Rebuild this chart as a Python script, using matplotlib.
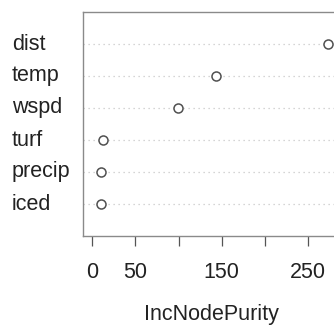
import matplotlib
matplotlib.use("Agg")
import matplotlib.pyplot as plt
from matplotlib.transforms import blended_transform_factory

variables = ["iced", "precip", "turf", "wspd", "temp", "dist"]
inc_node_purity = [9.5, 9.5, 12.0, 99.5, 144.0, 273.0]
xticks = [0, 50, 100, 150, 200, 250]
xticklabels = ["0", "50", "", "150", "", "250"]

plt.rcParams['font.family'] = ['Liberation Sans', 'DejaVu Sans']

W, H = 334, 325
fig = plt.figure(figsize=(W / 100, H / 100), dpi=100)
left, right, top, bottom = 83, 337, 12, 236
ax = fig.add_axes([left / W, (H - bottom) / H, (right - left) / W, (bottom - top) / H])

n = len(variables)
ypos = list(range(1, n + 1))
xmax = max(inc_node_purity)
pad = 0.04 * xmax
ax.set_xlim(-pad, xmax + pad)
ax.set_ylim(0, n + 1)

for y in ypos:
    ax.axhline(y, color="#c8c8c8", lw=0.9, linestyle=(0, (1, 3)), zorder=1)

ax.plot(inc_node_purity, ypos, linestyle="none", marker="o", markersize=6.5,
        markerfacecolor="white", markeredgecolor="#505050", markeredgewidth=1.1, zorder=3)

for s in ax.spines.values():
    s.set_color("#8a8a8a")
    s.set_linewidth(1.0)

ax.set_yticks([])
ax.set_xticks(xticks)
ax.set_xticklabels(xticklabels)
ax.tick_params(axis="x", length=7.5, width=0.9, color="#555555", pad=11,
               labelsize=15.5, labelcolor="#222222")

trans = blended_transform_factory(fig.transFigure, ax.transData)
for y, lab in zip(ypos, variables):
    fig.text(12 / W, y, lab, transform=trans, ha="left", va="center",
             fontsize=15.5, color="#222222")

fig.text(211 / W, (H - 320) / H, "IncNodePurity", ha="center", va="baseline",
         fontsize=15.5, color="#222222")

fig.savefig("out.png", dpi=100)
